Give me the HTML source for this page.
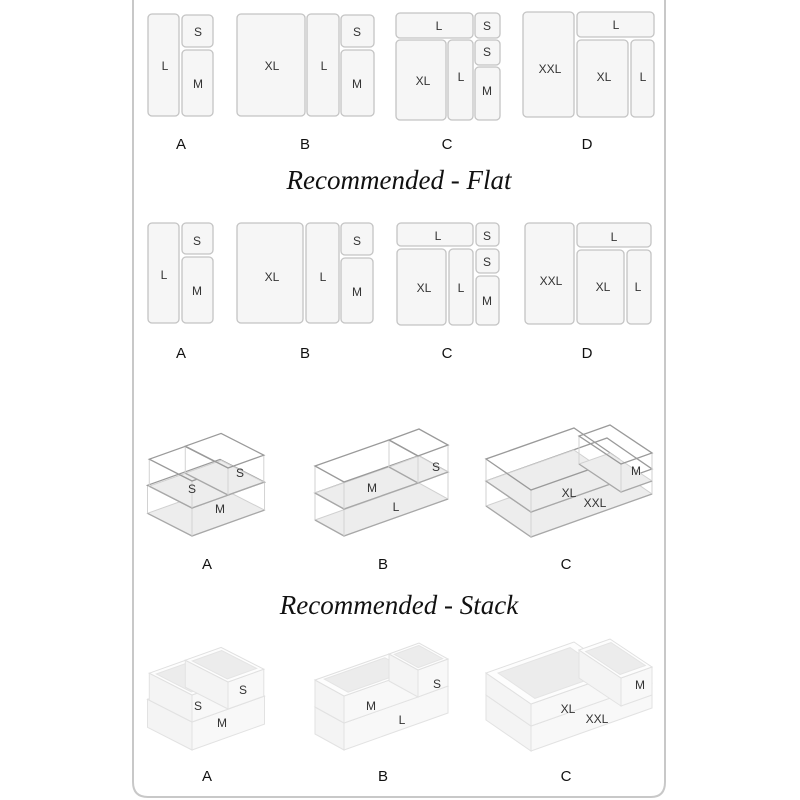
<!DOCTYPE html>
<html><head><meta charset="utf-8"><style>
html,body{margin:0;padding:0;background:#fff;}
svg{display:block;}
.t{font-family:"Liberation Sans",sans-serif;font-size:12px;fill:#333;text-anchor:middle;}
.lab{font-family:"Liberation Sans",sans-serif;font-size:15px;fill:#111;text-anchor:middle;}
.title{font-family:"Liberation Serif",serif;font-style:italic;font-size:27px;fill:#111;text-anchor:middle;}
.r{fill:#f6f6f6;stroke:#c4c4c4;stroke-width:1.3;}
</style></head><body>
<svg id="s" width="800" height="800" viewBox="0 0 800 800" xmlns="http://www.w3.org/2000/svg">
<path d="M133 0 V782 Q133 797 148 797 H651 Q665 797 665 782 V0" fill="none" stroke="#c8c8c8" stroke-width="2"/>
<g>
<rect class="r" x="148" y="14" width="31" height="102" rx="4"/>
<rect class="r" x="182" y="15" width="31" height="32" rx="4"/>
<rect class="r" x="182" y="50" width="31" height="66" rx="4"/>
<rect class="r" x="237" y="14" width="68" height="102" rx="4"/>
<rect class="r" x="307" y="14" width="32" height="102" rx="4"/>
<rect class="r" x="341" y="15" width="33" height="32" rx="4"/>
<rect class="r" x="341" y="50" width="33" height="66" rx="4"/>
<rect class="r" x="396" y="13" width="77" height="25" rx="4"/>
<rect class="r" x="475" y="13" width="25" height="25" rx="4"/>
<rect class="r" x="396" y="40" width="50" height="80" rx="4"/>
<rect class="r" x="448" y="40" width="25" height="80" rx="4"/>
<rect class="r" x="475" y="40" width="25" height="25" rx="4"/>
<rect class="r" x="475" y="67" width="25" height="53" rx="4"/>
<rect class="r" x="523" y="12" width="51" height="105" rx="4"/>
<rect class="r" x="577" y="12" width="77" height="25" rx="4"/>
<rect class="r" x="577" y="40" width="51" height="77" rx="4"/>
<rect class="r" x="631" y="40" width="23" height="77" rx="4"/>
<text class="t" x="165" y="70">L</text><text class="t" x="198" y="36">S</text><text class="t" x="198" y="88">M</text>
<text class="t" x="272" y="70">XL</text><text class="t" x="324" y="70">L</text><text class="t" x="357" y="36">S</text><text class="t" x="357" y="88">M</text>
<text class="t" x="439" y="30">L</text><text class="t" x="487" y="30">S</text><text class="t" x="423" y="85">XL</text><text class="t" x="461" y="81">L</text><text class="t" x="487" y="56">S</text><text class="t" x="487" y="95">M</text>
<text class="t" x="550" y="73">XXL</text><text class="t" x="616" y="29">L</text><text class="t" x="604" y="81">XL</text><text class="t" x="643" y="81">L</text>
<text class="lab" x="181" y="149">A</text><text class="lab" x="305" y="149">B</text><text class="lab" x="447" y="149">C</text><text class="lab" x="587" y="149">D</text>
</g>
<text class="title" x="399" y="189">Recommended - Flat</text>
<g>
<rect class="r" x="148" y="223" width="31" height="100" rx="4"/>
<rect class="r" x="182" y="223" width="31" height="31" rx="4"/>
<rect class="r" x="182" y="257" width="31" height="66" rx="4"/>
<rect class="r" x="237" y="223" width="66" height="100" rx="4"/>
<rect class="r" x="306" y="223" width="33" height="100" rx="4"/>
<rect class="r" x="341" y="223" width="32" height="32" rx="4"/>
<rect class="r" x="341" y="258" width="32" height="65" rx="4"/>
<rect class="r" x="397" y="223" width="76" height="23" rx="4"/>
<rect class="r" x="476" y="223" width="23" height="23" rx="4"/>
<rect class="r" x="397" y="249" width="49" height="76" rx="4"/>
<rect class="r" x="449" y="249" width="24" height="76" rx="4"/>
<rect class="r" x="476" y="249" width="23" height="24" rx="4"/>
<rect class="r" x="476" y="276" width="23" height="49" rx="4"/>
<rect class="r" x="525" y="223" width="49" height="101" rx="4"/>
<rect class="r" x="577" y="223" width="74" height="24" rx="4"/>
<rect class="r" x="577" y="250" width="47" height="74" rx="4"/>
<rect class="r" x="627" y="250" width="24" height="74" rx="4"/>
<text class="t" x="164" y="279">L</text><text class="t" x="197" y="245">S</text><text class="t" x="197" y="295">M</text>
<text class="t" x="272" y="281">XL</text><text class="t" x="323" y="281">L</text><text class="t" x="357" y="245">S</text><text class="t" x="357" y="296">M</text>
<text class="t" x="438" y="240">L</text><text class="t" x="487" y="240">S</text><text class="t" x="424" y="292">XL</text><text class="t" x="461" y="292">L</text><text class="t" x="487" y="266">S</text><text class="t" x="487" y="305">M</text>
<text class="t" x="551" y="285">XXL</text><text class="t" x="614" y="241">L</text><text class="t" x="603" y="291">XL</text><text class="t" x="638" y="291">L</text>
<text class="lab" x="181" y="358">A</text><text class="lab" x="305" y="358">B</text><text class="lab" x="447" y="358">C</text><text class="lab" x="587" y="358">D</text>
</g>
<g id="g3"></g>
<g id="g4" transform="translate(0,214)"></g>
<g>
<text class="t" x="192" y="493">S</text><text class="t" x="240" y="477">S</text><text class="t" x="220" y="513">M</text>
<text class="t" x="372" y="492">M</text><text class="t" x="436" y="471">S</text><text class="t" x="396" y="511">L</text>
<text class="t" x="569" y="497">XL</text><text class="t" x="595" y="507">XXL</text><text class="t" x="636" y="475">M</text>
<text class="lab" x="207" y="569">A</text><text class="lab" x="383" y="569">B</text><text class="lab" x="566" y="569">C</text>
</g>
<text class="title" x="399" y="614">Recommended - Stack</text>
<g>
<text class="t" x="198" y="710">S</text><text class="t" x="243" y="694">S</text><text class="t" x="222" y="727">M</text>
<text class="t" x="371" y="710">M</text><text class="t" x="437" y="688">S</text><text class="t" x="402" y="724">L</text>
<text class="t" x="568" y="713">XL</text><text class="t" x="597" y="723">XXL</text><text class="t" x="640" y="689">M</text>
<text class="lab" x="207" y="781">A</text><text class="lab" x="383" y="781">B</text><text class="lab" x="566" y="781">C</text>
</g>
</svg>
<script>
(function(){
var NS="http://www.w3.org/2000/svg";
function el(g,tag,a){var e=document.createElementNS(NS,tag);for(var k in a)e.setAttribute(k,a[k]);g.appendChild(e);return e;}
function pts(a){return a.map(function(p){return p[0].toFixed(1)+","+p[1].toFixed(1);}).join(" ");}
function box(g,F,L,D,h,opaque){
 var P0=F,P1=[F[0]+L[0],F[1]+L[1]],P2=[F[0]+L[0]+D[0],F[1]+L[1]+D[1]],P3=[F[0]+D[0],F[1]+D[1]];
 function up(p){return [p[0],p[1]-h];}
 var T0=up(P0),T1=up(P1),T2=up(P2),T3=up(P3);
 if(opaque){
  el(g,"polygon",{points:pts([P3,P0,T0,T3]),fill:"#f4f4f4",stroke:"#e2e2e2","stroke-width":1});
  el(g,"polygon",{points:pts([P0,P1,T1,T0]),fill:"#f8f8f8",stroke:"#e2e2e2","stroke-width":1});
  el(g,"polygon",{points:pts([T0,T1,T2,T3]),fill:"#fdfdfd",stroke:"#e0e0e0","stroke-width":1});
  var c=[(T0[0]+T2[0])/2,(T0[1]+T2[1])/2],s=0.82;
  var inn=[T0,T1,T2,T3].map(function(p){return [c[0]+(p[0]-c[0])*s,c[1]+(p[1]-c[1])*s];});
  el(g,"polygon",{points:pts(inn),fill:"#ececec",stroke:"#e4e4e4","stroke-width":1});
 } else {
  el(g,"polygon",{points:pts([P0,P1,P2,P3]),fill:"#ededed",stroke:"#d0d0d0","stroke-width":1});
  el(g,"polyline",{points:pts([P3,P0,P1]),fill:"none",stroke:"#a8a8a8","stroke-width":1.3});
  [P0,P1,P3].forEach(function(p){el(g,"line",{x1:p[0],y1:p[1],x2:p[0],y2:p[1]-h,stroke:"#d2d2d2","stroke-width":1});});
  el(g,"polygon",{points:pts([T0,T1,T2,T3]),fill:"none",stroke:"#9a9a9a","stroke-width":1.3});
 }
}
function scene(g,op){
 var La=[0.942,-0.336],Da=[-0.89,-0.455];
 function v(u,n){return [u[0]*n,u[1]*n];}
 box(g,[192,536],v(La,77),v(Da,50),28,op);
 box(g,[192,508],v(La,38),v(Da,48),27,op);
 box(g,[228,495],v(La,38),v(Da,48),27,op);
 var Db=[-29,-16];
 box(g,[344,536],[104,-37],Db,27,op);
 box(g,[344,509],[74,-26],Db,27,op);
 box(g,[418,483],[30,-11],Db,27,op);
 var Dc=[-45,-31];
 box(g,[531,537],[121,-43],Dc,25,op);
 box(g,[531,512],[88,-31],Dc,22,op);
 box(g,[621,492],[31,-11],[-42,-28],28,op);
}
scene(document.getElementById("g3"),false);
scene(document.getElementById("g4"),true);
})();
</script>
</body></html>
